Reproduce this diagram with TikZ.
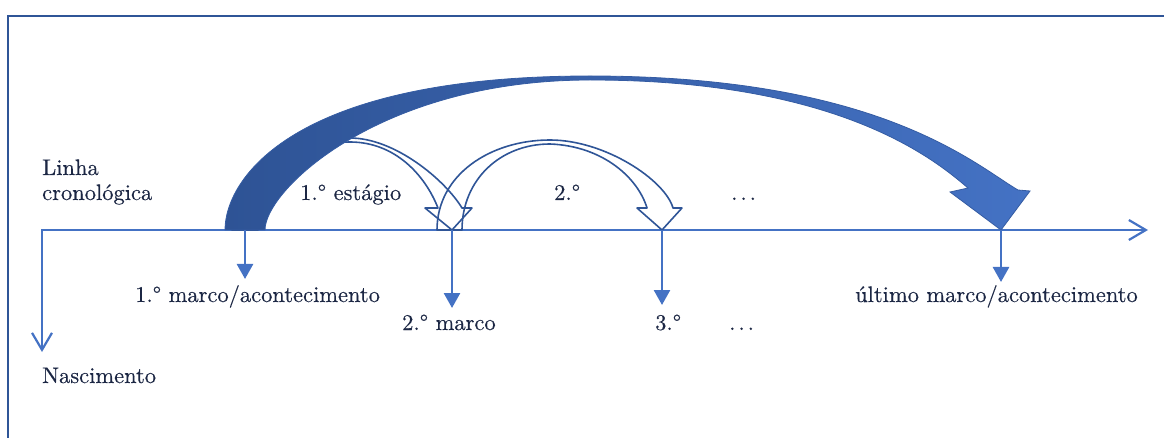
\documentclass[tikz,border=0pt]{standalone}
\usepackage{fontspec}
\setmainfont{lmroman10-regular.otf}[FakeBold=0.35]
\usetikzlibrary{arrows.meta}
\definecolor{frameblue}{HTML}{2F5597}
\definecolor{lineblue}{HTML}{4472C4}
\definecolor{darkblue}{HTML}{2E5395}
\definecolor{txt}{HTML}{1C2744}
\newcommand{\mydots}{.\kern3pt.\kern3pt.}
\begin{document}
\begin{tikzpicture}[x=1pt,y=-1pt,
  lbl/.style={text=txt, font=\fontsize{22.5}{27}\selectfont, inner sep=0pt, anchor=base west},
  axisline/.style={draw=lineblue, line width=2.2pt, line join=miter},
  tickarrow/.style={draw=lineblue, line width=2.6pt, -{Triangle[length=15pt,width=16pt]}},
  hollow/.style={draw=frameblue, line width=1.6pt, line join=round},
]
\useasboundingbox (0,0) rectangle (1164,438);
\draw[frameblue, line width=2pt] (8,438) -- (8,16) -- (1164,16);

\coordinate (o) at (42,230);
\coordinate (e) at (1148,230);
\coordinate (b) at (42,352);
\coordinate (m1) at (245,230);
\coordinate (m1e) at (245,279);
\coordinate (m2) at (452,230);
\coordinate (m2e) at (452,308);
\coordinate (m3) at (662,230);
\coordinate (m3e) at (662,305);
\coordinate (m4) at (1001,230);
\coordinate (m4e) at (1001,282);

% time axis and birth axis
\draw[axisline, {Straight Barb[length=17pt,width=20pt]}-{Straight Barb[length=17pt,width=20pt]}] (b) -- (o) -- (e);

% hollow stage arrows
\draw[hollow] (232,230) .. controls (232,172) and (290,138) .. (350,138)
  .. controls (395,138) and (445,180) .. (462,208) -- (472,208) -- (m2) -- (425,208) -- (438,208)
  .. controls (425,175) and (395,142) .. (350,142)
  .. controls (298,142) and (258,180) .. (258,230) -- cycle;
\draw[hollow] (437,230) .. controls (437,175) and (490,140) .. (550,140)
  .. controls (605,140) and (665,180) .. (673,208) -- (682,208) -- (m3) -- (637,208) -- (647,208)
  .. controls (638,178) and (603,146) .. (550,144)
  .. controls (500,144) and (462,180) .. (462,230) -- cycle;

% big arrow
\path[left color=darkblue, right color=lineblue, draw=darkblue!70!lineblue, line width=0.8pt]
  (225,230) .. controls (225,180) and (290,76) .. (590,76)
  .. controls (880,76) and (975,165) .. (1018,190)
  -- (1030,191) -- (m4) -- (950,192) -- (968,188)
  .. controls (935,160) and (840,80) .. (590,80)
  .. controls (380,80) and (265,190) .. (265,230)
  -- cycle;

% milestone arrows
\draw[tickarrow] (m1) -- (m1e);
\draw[tickarrow] (m2) -- (m2e);
\draw[tickarrow] (m3) -- (m3e);
\draw[tickarrow] (m4) -- (m4e);

% labels
\node[lbl] (linha) at (42,175) {Linha};
\node[lbl] (crono) at (42,200) {cronológica};
\node[lbl] (est1) at (300,200) {1.° estágio};
\node[lbl] (est2) at (554,200) {2.°};
\node[lbl] (dots1) at (731,200) {\mydots};
\node[lbl] (marco1) at (135,302) {1.° marco/acontecimento};
\node[lbl] (marco2) at (402,330) {2.° marco};
\node[lbl] (marco3) at (655,330) {3.°};
\node[lbl] (dots2) at (729,330) {\mydots};
\node[lbl] (marcoN) at (855,302) {último marco/acontecimento};
\node[lbl] (nasc) at (42,383) {Nascimento};
\end{tikzpicture}
\end{document}
